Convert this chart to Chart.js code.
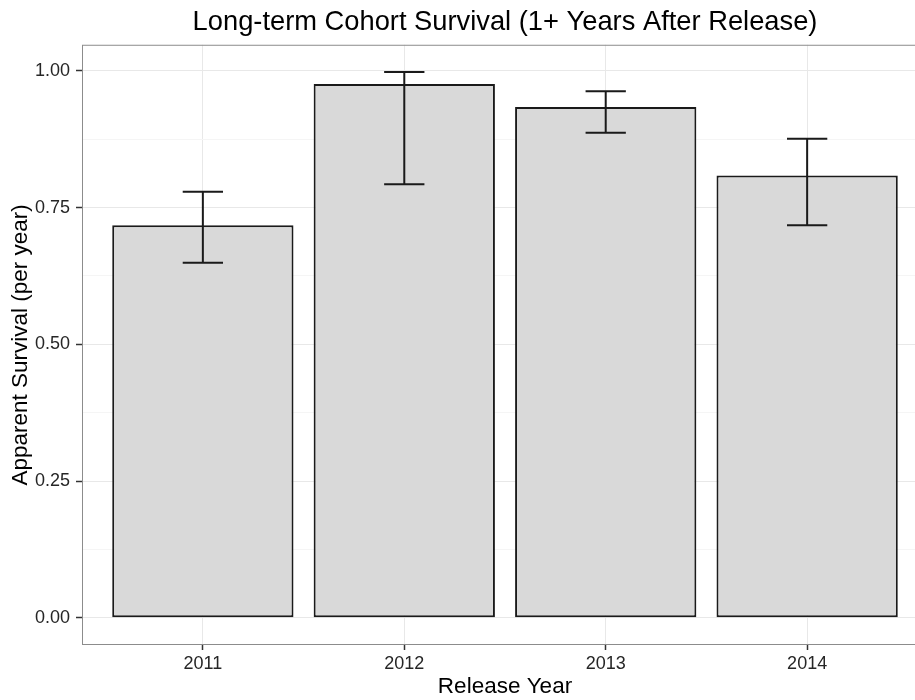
<!DOCTYPE html>
<html>
<head>
<meta charset="utf-8">
<title>Long-term Cohort Survival</title>
<script src="https://cdn.jsdelivr.net/npm/chart.js@4"></script>
<style>
  html, body { margin: 0; padding: 0; overflow: hidden; background: #ffffff; }
  canvas { display: block; }
</style>
</head>
<body>
<canvas id="chart" width="930" height="700"></canvas>
<script>
// Release cohorts and their estimated apparent annual survival
const years = ['2011', '2012', '2013', '2014'];
const survival = [0.718, 0.976, 0.934, 0.809];
// Confidence interval bounds for each estimate
const lower = [0.649, 0.793, 0.887, 0.718];
const upper = [0.779, 0.998, 0.963, 0.876];
// Labelled y ticks and the minor grid positions between them
const yMajor = [0, 0.25, 0.5, 0.75, 1.0];
const yMinor = [0.125, 0.375, 0.625, 0.875];

const FONT = '"Liberation Sans", Arial, Helvetica, sans-serif';

// Cohorts sit at positions 1..n on a linear axis so the panel can be padded by 0.6 of a slot
const xPos = years.map((_, i) => i + 1);
const yGrid = yMajor.concat(yMinor).sort((a, b) => a - b);
const isMajor = v => yMajor.includes(v);

// 5% expansion of the data range on the value axis
const yTop = Math.max(...upper, ...survival);
const yPad = 0.05 * yTop;

// Error bars drawn on top of the bars
const errorBars = {
  id: 'errorBars',
  afterDatasetsDraw(chart, args, opts) {
    const { ctx, scales: { x, y } } = chart;
    ctx.save();
    ctx.strokeStyle = opts.color;
    ctx.lineWidth = opts.lineWidth;
    ctx.lineCap = 'butt';
    xPos.forEach((pos, i) => {
      const cx = x.getPixelForValue(pos);
      const half = x.getPixelForValue(pos + opts.capWidth / 2) - cx;
      const yl = y.getPixelForValue(lower[i]);
      const yu = y.getPixelForValue(upper[i]);
      ctx.beginPath();
      ctx.moveTo(cx, yu); ctx.lineTo(cx, yl);
      ctx.moveTo(cx - half, yu); ctx.lineTo(cx + half, yu);
      ctx.moveTo(cx - half, yl); ctx.lineTo(cx + half, yl);
      ctx.stroke();
    });
    ctx.restore();
  }
};

// Thin frame around the plotting panel
const panelBorder = {
  id: 'panelBorder',
  afterDraw(chart, args, opts) {
    const { ctx, chartArea: a } = chart;
    ctx.save();
    ctx.strokeStyle = opts.color;
    ctx.lineWidth = 1;
    ctx.strokeRect(a.left + 0.5, a.top + 0.5, a.right - a.left - 1, a.bottom - a.top - 1);
    ctx.restore();
  }
};

new Chart(document.getElementById('chart'), {
  type: 'bar',
  data: {
    datasets: [{
      data: xPos.map((x, i) => ({ x: x, y: survival[i] })),
      backgroundColor: '#d9d9d9',
      borderColor: '#1a1a1a',
      borderWidth: 2,
      borderSkipped: false,
      barPercentage: 0.9,
      categoryPercentage: 1.0
    }]
  },
  options: {
    responsive: false,
    animation: false,
    events: [],
    layout: { padding: { left: 0, right: 2, top: 0, bottom: 0 } },
    plugins: {
      legend: { display: false },
      tooltip: { enabled: false },
      title: {
        display: true,
        text: 'Long-term Cohort Survival (1+ Years After Release)',
        color: '#000000',
        fullSize: false,
        font: { family: FONT, size: 27.3, weight: 'normal', lineHeight: 1.2 },
        padding: { top: 6, bottom: 6 }
      },
      errorBars: { color: '#1a1a1a', lineWidth: 2, capWidth: 0.2 },
      panelBorder: { color: '#8c8c8c' }
    },
    scales: {
      x: {
        type: 'linear',
        offset: false,
        min: 0.4,
        max: xPos.length + 0.6,
        afterBuildTicks: s => { s.ticks = xPos.map(v => ({ value: v })); },
        afterFit: s => { s.height = 55; },
        border: { display: false },
        grid: {
          offset: false,
          color: '#e8e8e8',
          lineWidth: 1,
          tickLength: 5,
          tickColor: '#333333',
          tickWidth: 1.5
        },
        ticks: {
          autoSkip: false,
          maxRotation: 0,
          padding: 3,
          color: '#262626',
          font: { family: FONT, size: 18 },
          callback: v => years[v - 1]
        },
        title: {
          display: true,
          text: 'Release Year',
          color: '#000000',
          font: { family: FONT, size: 22.5, lineHeight: 1.2 },
          padding: { top: 0, bottom: 0 }
        }
      },
      y: {
        type: 'linear',
        min: -yPad,
        max: yTop + yPad,
        afterBuildTicks: s => { s.ticks = yGrid.map(v => ({ value: v })); },
        afterFit: s => { s.width = 82; },
        border: { display: false },
        grid: {
          color: ctx => isMajor(ctx.tick.value) ? '#e8e8e8' : '#f5f5f5',
          lineWidth: 1,
          tickLength: 6,
          tickColor: ctx => isMajor(ctx.tick.value) ? '#333333' : 'rgba(0,0,0,0)',
          tickWidth: 1.5
        },
        ticks: {
          autoSkip: false,
          padding: 6,
          color: '#262626',
          font: { family: FONT, size: 18 },
          callback: v => isMajor(v) ? v.toFixed(2) : ''
        },
        title: {
          display: true,
          text: 'Apparent Survival (per year)',
          color: '#000000',
          font: { family: FONT, size: 22.5, lineHeight: 1.2 },
          padding: { top: 7, bottom: 0 }
        }
      }
    }
  },
  plugins: [errorBars, panelBorder]
});
</script>
</body>
</html>
